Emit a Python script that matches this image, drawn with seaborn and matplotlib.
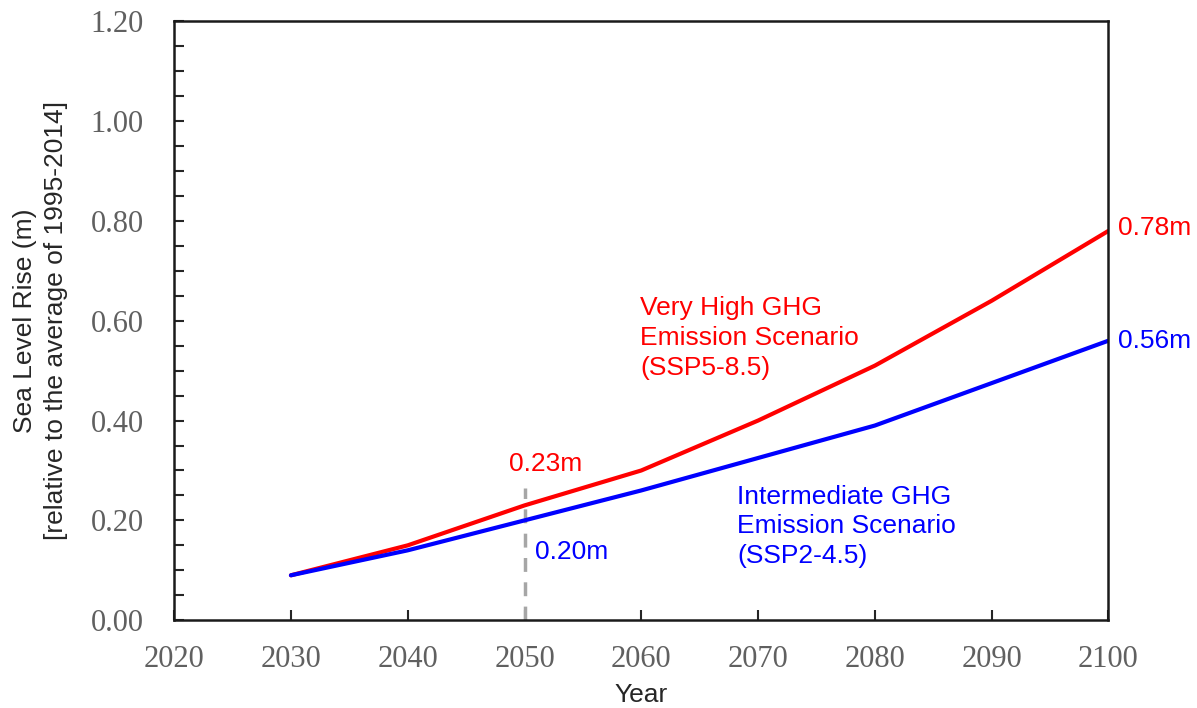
import numpy as np
import pandas as pd
import matplotlib
matplotlib.use('Agg')
import matplotlib.pyplot as plt
from matplotlib.ticker import MultipleLocator
import seaborn as sns

# Data
years = [2030, 2040, 2050, 2060, 2070, 2080, 2090, 2100]
ssp585 = [0.09, 0.15, 0.23, 0.30, 0.40, 0.51, 0.64, 0.78]
ssp245 = [0.09, 0.14, 0.20, 0.26, 0.325, 0.39, 0.475, 0.56]
scenarios = ['SSP5-8.5', 'SSP2-4.5']
x_ticks = [2020, 2030, 2040, 2050, 2060, 2070, 2080, 2090, 2100]
y_ticks = [0.0, 0.2, 0.4, 0.6, 0.8, 1.0, 1.2]

df = pd.DataFrame({'Year': years * 2,
                   'rise': ssp585 + ssp245,
                   'scenario': [scenarios[0]] * len(years) + [scenarios[1]] * len(years)})

sns.set_style('white')
plt.rcParams['font.family'] = ['Liberation Sans', 'DejaVu Sans']

fig, ax = plt.subplots(figsize=(11.97, 7.08), dpi=100)
fig.subplots_adjust(left=0.1455, right=0.926, top=0.970, bottom=0.124)

sns.lineplot(data=df, x='Year', y='rise', hue='scenario',
             palette={'SSP5-8.5': '#ff0000', 'SSP2-4.5': '#0000ff'},
             linewidth=3, legend=False, ax=ax)

# dashed marker line at 2050
ax.plot([2050, 2050], [0, 0.265], color='#a6a6a6', linestyle=(0, (4, 3)), linewidth=2.5, zorder=1)

ax.set_xlim(2020, 2100)
ax.set_ylim(0, 1.2)
ax.set_xticks(x_ticks)
ax.set_yticks(y_ticks)
ax.yaxis.set_minor_locator(MultipleLocator(0.05))
ax.set_xticklabels([str(x) for x in x_ticks])
ax.set_yticklabels(['%.2f' % y for y in y_ticks])
for lbl in ax.get_xticklabels() + ax.get_yticklabels():
    lbl.set_family('Liberation Serif')
    lbl.set_fontsize(22)
    lbl.set_color('#606060')
ax.tick_params(axis='both', which='both', direction='in', left=True, bottom=True,
               right=False, top=False, width=1.5)
ax.tick_params(axis='y', which='major', length=7, pad=22)
ax.tick_params(axis='y', which='minor', length=7)
ax.tick_params(axis='x', which='major', length=7, pad=18)

for s in ax.spines.values():
    s.set_color('#1a1a1a')
    s.set_linewidth(1.8)

ax.set_xlabel('Year', fontsize=19, color='#262626', labelpad=6)
ax.set_ylabel('Sea Level Rise (m)\n[relative to the average of 1995-2014]',
              fontsize=19, color='#262626', labelpad=16, linespacing=1.35)

ax.text(2100.8, 0.785, '0.78m', color='#ff0000', fontsize=19, va='center', ha='left')
ax.text(2100.8, 0.56, '0.56m', color='#0000ff', fontsize=19, va='center', ha='left')
ax.text(2048.7, 0.312, '0.23m', color='#ff0000', fontsize=19, va='center', ha='left')
ax.text(2050.9, 0.137, '0.20m', color='#0000ff', fontsize=19, va='center', ha='left')
ax.text(2059.9, 0.565, 'Very High GHG\nEmission Scenario\n(SSP5-8.5)', color='#ff0000',
        fontsize=19, va='center', ha='left', linespacing=1.3)
ax.text(2068.2, 0.188, 'Intermediate GHG\nEmission Scenario\n(SSP2-4.5)', color='#0000ff',
        fontsize=19, va='center', ha='left', linespacing=1.3)

fig.savefig('out.png', dpi=100)
